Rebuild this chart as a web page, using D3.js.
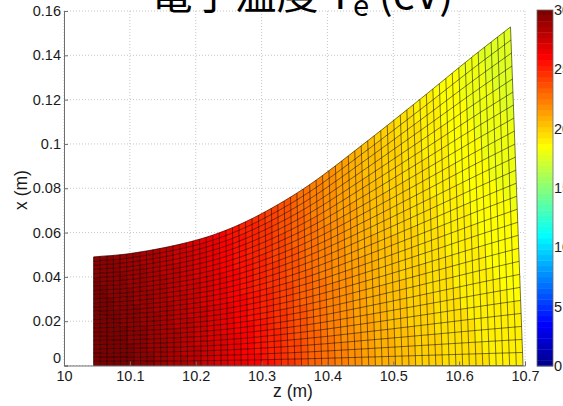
<!DOCTYPE html>
<html>
<head>
<meta charset="utf-8">
<script src="https://cdn.jsdelivr.net/npm/d3@7"></script>
<style>
  body { margin: 0; background: #fff; overflow: hidden; }
  text { font-family: "Liberation Sans", Arial, sans-serif; }
</style>
</head>
<body>
<svg id="chart" width="563" height="406"></svg>
<script>
// Mesh stations: z where each cross-field line meets the axis (m)
const zAxis   = [10.045, 10.101, 10.202, 10.253, 10.3045, 10.378, 10.4665, 10.554, 10.642, 10.697];
// Same cross-field lines at the flux boundary: z and x (m)
const zTop    = [10.045, 10.1,   10.2,   10.25,  10.3,    10.37,  10.455,  10.54,  10.625, 10.678];
const rTop    = [0.049,  0.0505, 0.0565, 0.0615, 0.0685,  0.081,  0.100,   0.120,  0.1405, 0.1528];
// Electron temperature (eV) on axis and on the boundary field line
const teAxis  = [30.5,   29.6,   27.7,   26.6,   25.5,    23.2,   21.2,    19.9,   19.2,   19.0];
const teEdge  = [29.3,   28.7,   26.8,   25.6,   24.4,    22.4,   20.4,    19.0,   17.8,   17.2];

// Axis ticks
const zTicks = [10, 10.1, 10.2, 10.3, 10.4, 10.5, 10.6, 10.7];
const zTickLabels = ["10", "10.1", "10.2", "10.3", "10.4", "10.5", "10.6", "10.7"];
const xTicks = [0, 0.02, 0.04, 0.06, 0.08, 0.1, 0.12, 0.14, 0.16];
const xTickLabels = ["0", "0.02", "0.04", "0.06", "0.08", "0.1", "0.12", "0.14", "0.16"];
const cbTicks = [0, 5, 10, 15, 20, 25, 30];

const svg = d3.select("#chart");
const plot = { left: 64, right: 525, top: 11, bottom: 365.5 };
const cb = { left: 537, width: 16, top: 10, bottom: 366 };

const xScale = d3.scaleLinear().domain([10, 10.7]).range([plot.left, plot.right]);
const yScale = d3.scaleLinear().domain([0, 0.16]).range([plot.bottom, plot.top]);

// MATLAB-style jet(64) colormap
function jetMap(m) {
  const n = Math.ceil(m / 4);
  const u = [];
  for (let i = 1; i <= n; i++) u.push(i / n);
  for (let i = 1; i < n; i++) u.push(1);
  for (let i = n; i >= 1; i--) u.push(i / n);
  const g0 = Math.ceil(n / 2) - (m % 4 === 1 ? 1 : 0);
  const cols = [];
  for (let k = 1; k <= m; k++) {
    const gi = k - g0, ri = k - g0 - n, bi = k - g0 + n;
    const R = ri >= 1 && ri <= u.length ? u[ri - 1] : 0;
    const G = gi >= 1 && gi <= u.length ? u[gi - 1] : 0;
    const B = bi >= 1 && bi <= u.length ? u[bi - 1] : 0;
    cols.push(d3.rgb(R * 255, G * 255, B * 255).toString());
  }
  return cols;
}
const jet = jetMap(64);
const cLim = [0, 30];
function colorOf(v) {
  let k = Math.floor((v - cLim[0]) / (cLim[1] - cLim[0]) * jet.length);
  k = Math.max(0, Math.min(jet.length - 1, k));
  return jet[k];
}

// Monotone cubic interpolation through the station values
function monotone(xs, ys) {
  const n = xs.length, d = [], m = new Array(n);
  for (let i = 0; i < n - 1; i++) d.push((ys[i + 1] - ys[i]) / (xs[i + 1] - xs[i]));
  m[0] = d[0]; m[n - 1] = d[n - 2];
  for (let i = 1; i < n - 1; i++) m[i] = d[i - 1] * d[i] <= 0 ? 0 : (d[i - 1] + d[i]) / 2;
  for (let i = 0; i < n - 1; i++) {
    if (d[i] === 0) { m[i] = m[i + 1] = 0; continue; }
    const a = m[i] / d[i], b = m[i + 1] / d[i], s = a * a + b * b;
    if (s > 9) { const t = 3 / Math.sqrt(s); m[i] = t * a * d[i]; m[i + 1] = t * b * d[i]; }
  }
  return x => {
    let i = d3.bisectRight(xs, x) - 1;
    i = Math.max(0, Math.min(n - 2, i));
    const h = xs[i + 1] - xs[i], t = (x - xs[i]) / h, t2 = t * t, t3 = t2 * t;
    return (2 * t3 - 3 * t2 + 1) * ys[i] + (t3 - 2 * t2 + t) * h * m[i] +
           (-2 * t3 + 3 * t2) * ys[i + 1] + (t3 - t2) * h * m[i + 1];
  };
}

const zTopAt = monotone(zAxis, zTop);
const rTopAt = monotone(zAxis, rTop);
const teAxisAt = monotone(zAxis, teAxis);
const teEdgeAt = monotone(zAxis, teEdge);

// Build the curvilinear mesh: columns run across field lines, rows follow them
const nCols = 64, nRows = 26;
const zLo = zAxis[0], zHi = zAxis[zAxis.length - 1];
const nodes = [];
for (let i = 0; i <= nCols; i++) {
  const s = zLo + (zHi - zLo) * i / nCols;
  const zt = zTopAt(s), rt = rTopAt(s), ta = teAxisAt(s), te = teEdgeAt(s);
  const col = [];
  for (let j = 0; j <= nRows; j++) {
    const f = j / nRows;
    col.push({ z: s + f * (zt - s), r: f * rt, t: ta + f * (te - ta) });
  }
  nodes.push(col);
}

// Dotted grid
const grid = svg.append("g");
zTicks.forEach(v => grid.append("line")
  .attr("x1", xScale(v)).attr("x2", xScale(v))
  .attr("y1", plot.top).attr("y2", plot.bottom)
  .attr("stroke", "#b8b8b8").attr("stroke-width", 0.8).attr("stroke-dasharray", "1,2"));
xTicks.forEach(v => grid.append("line")
  .attr("x1", plot.left).attr("x2", plot.right)
  .attr("y1", yScale(v)).attr("y2", yScale(v))
  .attr("stroke", "#b8b8b8").attr("stroke-width", 0.8).attr("stroke-dasharray", "1,2"));

// Surface faces
const px = p => [xScale(p.z), yScale(p.r)];
const faces = svg.append("g");
for (let i = 0; i < nCols; i++) {
  for (let j = 0; j < nRows; j++) {
    const a = nodes[i][j], b = nodes[i + 1][j], c = nodes[i + 1][j + 1], d = nodes[i][j + 1];
    const col = colorOf(a.t);
    faces.append("polygon")
      .attr("points", [a, b, c, d].map(px).map(p => p.join(",")).join(" "))
      .attr("fill", col).attr("stroke", col).attr("stroke-width", 0.4);
  }
}

// Mesh edges
const edges = svg.append("g").attr("fill", "none").attr("stroke", "#000")
  .attr("stroke-opacity", 0.75).attr("stroke-width", 0.7);
const line = d3.line().x(p => xScale(p.z)).y(p => yScale(p.r));
for (let j = 0; j <= nRows; j++) edges.append("path").attr("d", line(nodes.map(c => c[j])));
for (let i = 0; i <= nCols; i++) edges.append("path").attr("d", line(nodes[i]));

// Axes (left and bottom only, ticks inward)
const axisColor = "#6e6e6e";
const xAxis = svg.append("g").attr("transform", `translate(0,${plot.bottom})`)
  .call(d3.axisBottom(xScale).tickValues(zTicks).tickSize(-4).tickFormat((d, i) => zTickLabels[i]));
const yAxis = svg.append("g").attr("transform", `translate(${plot.left},0)`)
  .call(d3.axisLeft(yScale).tickValues(xTicks).tickSize(-4).tickFormat((d, i) => xTickLabels[i]));
[xAxis, yAxis].forEach(g => {
  g.select(".domain").attr("stroke", axisColor).attr("stroke-width", 1);
  g.selectAll(".tick line").attr("stroke", axisColor);
  g.selectAll(".tick text").attr("fill", "#1a1a1a")
    .style("font-family", '"Liberation Sans", Arial, sans-serif').style("font-size", "14.5px");
});
xAxis.selectAll(".tick text").attr("y", 5).attr("dy", "0.71em");
yAxis.selectAll(".tick text").attr("x", -3);
yAxis.selectAll(".tick text").filter(d => d === 0).attr("dy", "-0.18em");

// Axis titles
svg.append("text").attr("x", 293).attr("y", 397).attr("text-anchor", "middle")
  .style("font-size", "17.5px").attr("fill", "#1a1a1a").text("z (m)");
svg.append("text").attr("transform", "translate(27,190) rotate(-90)").attr("text-anchor", "middle")
  .style("font-size", "17.5px").attr("fill", "#1a1a1a").text("x (m)");

// Title
const title = svg.append("text").attr("x", 302).attr("y", 9).attr("text-anchor", "middle")
  .style("font-family", '"Noto Sans CJK JP", "Noto Sans", sans-serif').style("font-size", "42px").attr("fill", "#000");
title.append("tspan").text("電子温度 T");
title.append("tspan").attr("dy", 7).style("font-size", "29px").text("e");
title.append("tspan").attr("dy", -7).text(" (eV)");

// Colorbar
const cbScale = d3.scaleLinear().domain(cLim).range([cb.bottom, cb.top]);
const cbG = svg.append("g");
const bandH = (cb.bottom - cb.top) / jet.length;
jet.forEach((c, k) => cbG.append("rect")
  .attr("x", cb.left).attr("width", cb.width)
  .attr("y", cb.bottom - (k + 1) * bandH).attr("height", bandH + 0.4)
  .attr("fill", c));
cbG.append("rect").attr("x", cb.left).attr("y", cb.top).attr("width", cb.width)
  .attr("height", cb.bottom - cb.top).attr("fill", "none").attr("stroke", axisColor).attr("stroke-width", 0.8);
cbTicks.forEach(v => cbG.append("text")
  .attr("x", cb.left + cb.width + 1).attr("y", cbScale(v)).attr("dy", "0.35em")
  .style("font-size", "14.5px").attr("fill", "#1a1a1a").text(v));
</script>
</body>
</html>
